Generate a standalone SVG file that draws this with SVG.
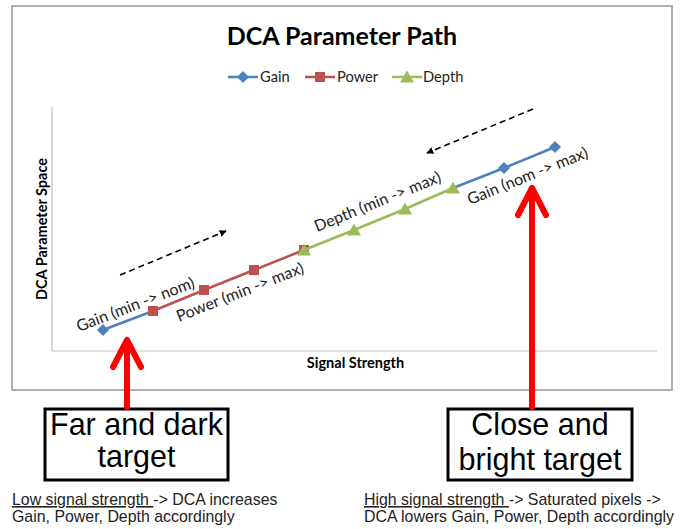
<svg xmlns="http://www.w3.org/2000/svg" width="685" height="529" viewBox="0 0 685 529">
  <style>
    .chart { font-family: Lato, "Open Sans", "Liberation Sans", sans-serif; fill: #000; }
    .title { font-size: 25px; font-weight: bold; }
    .legend { font-size: 14.7px; fill: #222; }
    .axtitle { font-size: 14.5px; font-weight: bold; }
    .dlabel { font-size: 16px; fill: #222; }
    .box text { font-family: "Liberation Sans", Arial, sans-serif; font-size: 30.5px; fill: #000; text-anchor: middle; }
    .box rect { fill: #fff; stroke: #000; stroke-width: 3; }
    .caption { font-family: "Liberation Sans", Arial, sans-serif; font-size: 15.9px; fill: #222; }
    .gain { stroke: #4F81BD; }
    .power { stroke: #C0504D; }
    .depth { stroke: #9BBB59; }
    .sline { fill: none; stroke-width: 2.5; }
    .axis { stroke: #BFBFBF; stroke-width: 1.2; fill: none; }
    .dash { stroke: #000; stroke-width: 1.6; stroke-dasharray: 6 4; fill: none; }
    .red { stroke: #FF0000; stroke-width: 6; fill: none; stroke-linecap: round; stroke-linejoin: round; }
  </style>
  <defs>
    <path id="dia" d="M0,-6 L6,0 L0,6 L-6,0Z" fill="#4F81BD"/>
    <rect id="sq" x="-5" y="-5" width="10" height="10" fill="#C0504D"/>
    <path id="tri" d="M0,-6.5 L7,5.5 L-7,5.5Z" fill="#9BBB59"/>
    <marker id="ah" viewBox="0 0 10 10" refX="9" refY="5" markerWidth="7" markerHeight="7" markerUnits="userSpaceOnUse" orient="auto">
      <path d="M0,0 L10,5 L0,10Z" fill="#000"/>
    </marker>
  </defs>

  <rect width="685" height="529" fill="#fff"/>

  <g id="chart-frame">
    <rect x="12" y="6" width="660" height="384" fill="#fff" stroke="#A6A6A6" stroke-width="1.8"/>
  </g>

  <g id="title" class="chart">
    <text class="title" x="342" y="45" text-anchor="middle">DCA Parameter Path</text>
  </g>

  <g id="legend" class="chart">
    <line class="sline gain" x1="228" y1="77" x2="258" y2="77"/>
    <use href="#dia" x="243" y="77"/>
    <text class="legend" x="260" y="82">Gain</text>
    <line class="sline power" x1="305" y1="77" x2="335" y2="77"/>
    <use href="#sq" x="320" y="77"/>
    <text class="legend" x="337" y="82">Power</text>
    <line class="sline depth" x1="392" y1="77" x2="422" y2="77"/>
    <use href="#tri" x="407" y="77"/>
    <text class="legend" x="423" y="82">Depth</text>
  </g>

  <g id="axes" class="chart">
    <line class="axis" x1="52" y1="107" x2="52" y2="351"/>
    <line class="axis" x1="52" y1="351" x2="657" y2="351"/>
    <text class="axtitle" transform="translate(46.5,229) rotate(-90)" text-anchor="middle">DCA Parameter Space</text>
    <text class="axtitle" x="355.5" y="368" text-anchor="middle">Signal Strength</text>
  </g>

  <g id="series">
    <g id="series-gain">
      <polyline class="sline gain" points="103,330 153,311"/>
      <polyline class="sline gain" points="453,188 504,168 555,147"/>
      <use href="#dia" x="103" y="330"/>
      <use href="#dia" x="504" y="168"/>
      <use href="#dia" x="555" y="147"/>
    </g>
    <g id="series-power">
      <polyline class="sline power" points="153,311 204,290 254,270 304,250"/>
      <use href="#sq" x="153" y="311"/>
      <use href="#sq" x="204" y="290"/>
      <use href="#sq" x="254" y="270"/>
      <use href="#sq" x="304" y="250"/>
    </g>
    <g id="series-depth">
      <polyline class="sline depth" points="304,250 354,230 405,209 453,188"/>
      <use href="#tri" x="304" y="250"/>
      <use href="#tri" x="354" y="230"/>
      <use href="#tri" x="405" y="209"/>
      <use href="#tri" x="453" y="188"/>
    </g>
  </g>

  <g id="data-labels" class="chart">
    <text class="dlabel" transform="translate(79,332) rotate(-21)">Gain (min -&gt; nom)</text>
    <text class="dlabel" transform="translate(179,322) rotate(-21.5)">Power (min -&gt; max)</text>
    <text class="dlabel" transform="translate(317,232) rotate(-22)">Depth (min -&gt; max)</text>
    <text class="dlabel" transform="translate(470,205) rotate(-22)">Gain (nom -&gt; max)</text>
  </g>

  <g id="node-far">
    <g class="box">
      <rect x="45" y="409" width="183" height="71"/>
      <text x="136.5" y="435">Far and dark</text>
      <text x="136.5" y="467">target</text>
    </g>
    <text class="caption" x="12" y="505"><tspan text-decoration="underline">Low signal strength </tspan>-&gt; DCA increases</text>
    <text class="caption" x="12" y="522">Gain, Power, Depth accordingly</text>
  </g>

  <g id="node-close">
    <g class="box">
      <rect x="448" y="409" width="184" height="71"/>
      <text x="540" y="435">Close and</text>
      <text x="540" y="470">bright target</text>
    </g>
    <text class="caption" x="364" y="505"><tspan text-decoration="underline">High signal strength </tspan>-&gt; Saturated pixels -&gt;</text>
    <text class="caption" x="364" y="522">DCA lowers Gain, Power, Depth accordingly</text>
  </g>

  <g id="connectors">
    <line class="dash" x1="120" y1="275" x2="226" y2="231" marker-end="url(#ah)"/>
    <line class="dash" x1="533" y1="109" x2="427" y2="153" marker-end="url(#ah)"/>
    <line class="red" x1="127" y1="407" x2="127" y2="342"/>
    <polyline class="red" points="113,367 127,340 141,367"/>
    <line class="red" x1="532" y1="407" x2="532" y2="190"/>
    <polyline class="red" points="518,215 532,188 546,215"/>
  </g>
</svg>
